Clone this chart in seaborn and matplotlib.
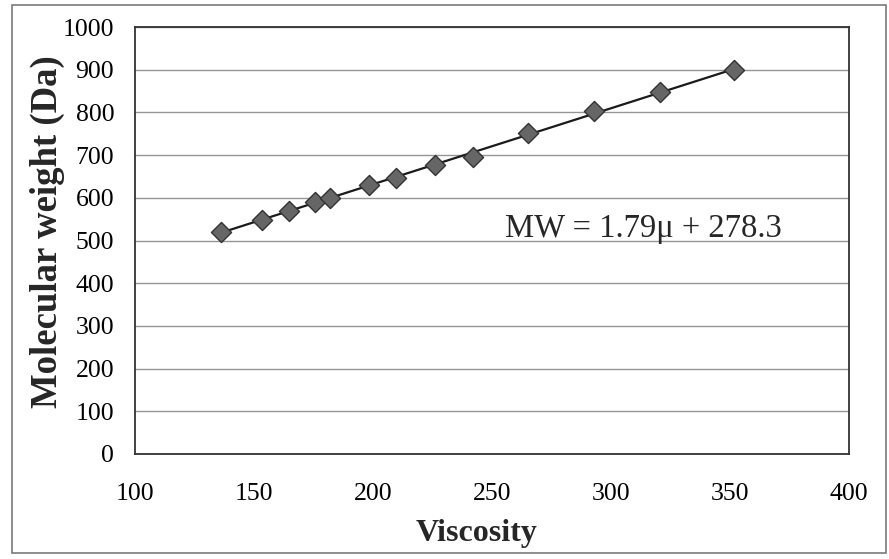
import matplotlib
matplotlib.use("Agg")
import matplotlib.pyplot as plt
import seaborn as sns
import numpy as np
import pandas as pd
from matplotlib.patches import Rectangle

viscosity = [136.0, 153.5, 164.7, 175.6, 181.9, 198.4, 209.7, 226.1, 241.9, 265.3, 293.0, 320.7, 351.8]
mol_weight = [521, 548, 570, 590, 599, 630, 647, 677, 695, 751, 804, 848, 900]
x_ticks = [100, 150, 200, 250, 300, 350, 400]
y_ticks = [0, 100, 200, 300, 400, 500, 600, 700, 800, 900, 1000]
equation = "MW = 1.79\u03bc + 278.3"
x_label = "Viscosity"
y_label = "Molecular weight (Da)"

df = pd.DataFrame({"Viscosity": viscosity, "MW": mol_weight})

sns.set_style("white")
plt.rcParams["font.family"] = ["Liberation Serif", "DejaVu Serif"]

fig = plt.figure(figsize=(8.89, 5.59), dpi=100)
ax = fig.add_axes([135/889, 1-454/559, (849-135)/889, (454-27)/559])

sns.regplot(data=df, x="Viscosity", y="MW", ax=ax, ci=None, truncate=True,
            scatter=False, line_kws=dict(color="#1a1a1a", lw=1.6, zorder=2))
sns.scatterplot(data=df, x="Viscosity", y="MW", ax=ax, marker="D", s=105,
                color="#666666", edgecolor="#333333", linewidth=1.0, zorder=3)

ax.set_xlim(100, 400)
ax.set_ylim(0, 1000)
ax.set_xticks(x_ticks)
ax.set_yticks(y_ticks)
ax.tick_params(axis="both", length=0, labelsize=18.5, colors="black")
ax.tick_params(axis="x", pad=21)
ax.tick_params(axis="y", pad=15)
ax.yaxis.grid(True, color="#959595", lw=1.0)
ax.xaxis.grid(False)
ax.set_axisbelow(True)
for s in ax.spines.values():
    s.set_visible(True)
    s.set_color("#333333")
    s.set_linewidth(1.3)

ax.set_xlabel(x_label, fontsize=23, fontweight="bold", labelpad=10)
ax.xaxis.label.set_x(0.478)
ax.set_ylabel(y_label, fontsize=26.5, fontweight="bold", labelpad=-2)
ax.yaxis.label.set_y(0.52)

ax.text(0.518, 0.508, equation, transform=ax.transAxes, fontsize=23.5,
        ha="left", va="baseline")

fig.patches.append(Rectangle((12/889, 1-553/559), (886-12)/889, (553-5)/559,
                             transform=fig.transFigure, fill=False,
                             edgecolor="#7a7a7a", lw=1.2))

fig.savefig("out.png", dpi=100, facecolor="white")
